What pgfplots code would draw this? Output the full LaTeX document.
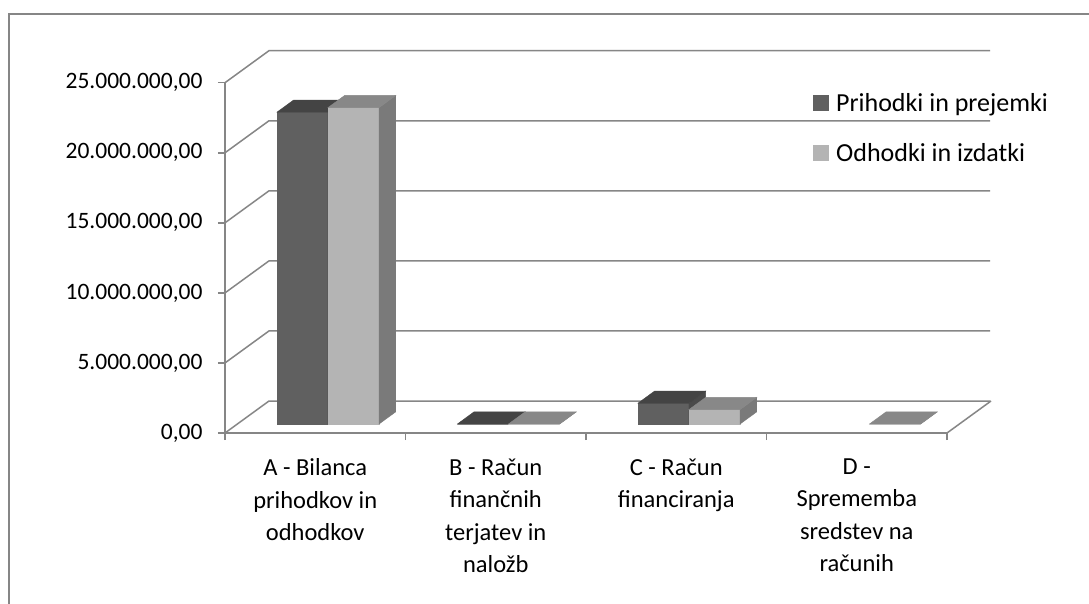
\documentclass[border=0pt]{standalone}
\usepackage{fontspec}
\setmainfont{Carlito}
\usepackage{pgfplots}
\usepackage{pgfplotstable}
\pgfplotsset{compat=1.18}
\definecolor{gridc}{RGB}{134,134,134}
\definecolor{dfront}{RGB}{96,96,96}
\definecolor{dtop}{RGB}{68,68,68}
\definecolor{dside}{RGB}{74,74,74}
\definecolor{lfront}{RGB}{180,180,180}
\definecolor{ltop}{RGB}{136,136,136}
\definecolor{lside}{RGB}{122,122,122}

% values in millions
\pgfplotstableread{
cat dark light
0 22.25 22.58
1 0 0
2 1.48 1.03
3 nan 0
}\datatable

\pgfdeclareplotmark{cubedark}{%
  \pgfmathsetmacro\hh{\H*14.012}%
  \fill[dfront] (0pt,0pt) rectangle (51.1pt,-\hh pt);
  \fill[dside] (51.1pt,0pt) -- (67.8pt,12.2pt) -- (67.8pt,12.2pt-\hh pt) -- (51.1pt,-\hh pt) -- cycle;
  \fill[dtop] (0pt,0pt) -- (16.7pt,12.2pt) -- (67.8pt,12.2pt) -- (51.1pt,0pt) -- cycle;
}
\pgfdeclareplotmark{cubelight}{%
  \pgfmathsetmacro\hh{\H*14.012}%
  \fill[lfront] (0pt,0pt) rectangle (51.1pt,-\hh pt);
  \fill[lside] (51.1pt,0pt) -- (67.8pt,12.2pt) -- (67.8pt,12.2pt-\hh pt) -- (51.1pt,-\hh pt) -- cycle;
  \fill[ltop] (0pt,0pt) -- (16.7pt,12.2pt) -- (67.8pt,12.2pt) -- (51.1pt,0pt) -- cycle;
}

\begin{document}
\begin{tikzpicture}
\useasboundingbox (0pt,0pt) rectangle (1089pt,603pt);
\fill[white] (0pt,0pt) rectangle (1089pt,603pt);
\draw[gridc, line width=2pt] (9pt,-5pt) -- (9pt,589pt) -- (1100pt,589pt);
\begin{axis}[
  at={(225pt,170pt)}, anchor=south west,
  scale only axis, width=722pt, height=350.3pt,
  xmin=0, xmax=4, ymin=0, ymax=25,
  clip=false,
  axis x line*=bottom, axis y line*=left,
  axis line style={gridc, line width=1.5pt},
  tick align=outside,
  major tick length=7pt,
  minor tick length=7pt,
  ytick={0,5,10,15,20,25},
  yticklabels={{0,00},{5.000.000,00},{10.000.000,00},{15.000.000,00},{20.000.000,00},{25.000.000,00}},
  xtick={0.5,1.5,2.5,3.5},
  xticklabels={{A - Bilanca\\prihodkov in\\odhodkov},{B - Račun\\finančnih\\terjatev in\\naložb},{C - Račun\\financiranja},{D -\\Sprememba\\sredstev na\\računih}},
  minor xtick={0,1,2,3,4},
  major x tick style={draw=none},
  minor x tick style={gridc, line width=1.5pt},
  major y tick style={gridc, line width=1.5pt},
  xticklabel style={align=center, font=\fontsize{24.5}{32.5}\selectfont, yshift=-15pt},
  yticklabel style={xshift=-12pt, font=\fontsize{23.5}{28}\selectfont},
  legend style={draw=none, fill=none, at={(0.8145,0.970)}, anchor=north west,
    font=\fontsize{26}{31}\selectfont, row sep=30pt, inner sep=0pt,
    nodes={inner ysep=0pt, inner xsep=3.5pt}},
  legend cell align=left,
]
\pgfplotsinvokeforeach{0,5,10,15,20,25}{
  \draw[gridc, line width=1.5pt] (axis cs:0,#1) -- ++(44pt,32pt) -- ++(721pt,0pt);
}
\draw[gridc, line width=1.5pt] (axis cs:4,0) -- ++(44pt,32pt);

\addplot[only marks, mark=cubedark, forget plot,
  visualization depends on={\thisrow{dark} \as \H}]
  table[x expr=\thisrow{cat}+0.2875, y expr=\thisrow{dark}+0.642] {\datatable};
\addplot[only marks, mark=cubelight, forget plot,
  visualization depends on={\thisrow{light} \as \H}]
  table[x expr=\thisrow{cat}+0.5705, y expr=\thisrow{light}+0.642] {\datatable};

\addlegendimage{legend image code/.code={\fill[dfront] (0pt,-7.5pt) rectangle (15pt,7.5pt); \path (19pt,0pt);}}
\addlegendentry{Prihodki in prejemki}
\addlegendimage{legend image code/.code={\fill[lfront] (0pt,-7.5pt) rectangle (15pt,7.5pt); \path (19pt,0pt);}}
\addlegendentry{Odhodki in izdatki}
\end{axis}
\end{tikzpicture}
\end{document}
